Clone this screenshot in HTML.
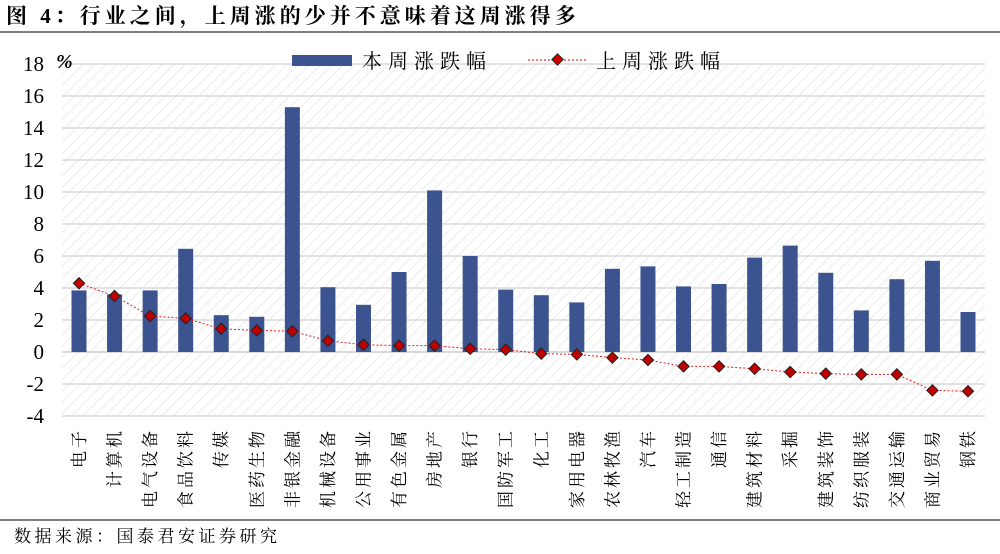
<!DOCTYPE html>
<html><head><meta charset="utf-8"><style>
body{margin:0;background:#fff;width:1000px;height:549px;overflow:hidden;font-family:"Liberation Serif","Noto Serif CJK SC",serif}
</style></head><body>
<svg width="1000" height="549" xmlns="http://www.w3.org/2000/svg">
<defs><pattern id="hatch" width="8" height="8" patternUnits="userSpaceOnUse" patternTransform="rotate(45)"><rect width="8" height="8" fill="#fff"/><line x1="0" y1="0" x2="0" y2="8" stroke="#ececec" stroke-width="2"/></pattern></defs>
<text x="6" y="23" font-size="21" font-weight="bold" letter-spacing="4">图 4：行业之间，上周涨的少并不意味着这周涨得多</text>
<line x1="0" y1="32" x2="1000" y2="32" stroke="#555" stroke-width="1.5"/>
<rect x="62" y="64" width="923" height="352" fill="url(#hatch)"/>
<g id="grid"></g><g id="bars"></g><g id="line"></g><g id="labels"></g>
<text x="56" y="68" font-size="20" font-style="italic" font-weight="bold">%</text>
<rect x="292" y="55" width="60" height="11" fill="#3b5490"/>
<text x="362" y="68" font-size="20" letter-spacing="6">本周涨跌幅</text>
<line x1="528" y1="60" x2="588" y2="60" stroke="#d00" stroke-dasharray="2,2"/>
<rect x="553.5" y="55.5" width="8" height="8" transform="rotate(45 557.5 59.5)" fill="#c00" stroke="#222"/>
<text x="596" y="68" font-size="20" letter-spacing="6">上周涨跌幅</text>
<line x1="0" y1="520" x2="1000" y2="520" stroke="#555" stroke-width="1.5"/>
<text x="14" y="542" font-size="17" letter-spacing="3.5">数据来源：国泰君安证券研究</text>
</svg>
<script>
const categories=["电子","计算机","电气设备","食品饮料","传媒","医药生物","非银金融","机械设备","公用事业","有色金属","房地产","银行","国防军工","化工","家用电器","农林牧渔","汽车","轻工制造","通信","建筑材料","采掘","建筑装饰","纺织服装","交通运输","商业贸易","钢铁"];
const thisWeek=[3.85,3.6,3.85,6.45,2.3,2.2,15.3,4.05,2.95,5.0,10.1,6.0,3.9,3.55,3.1,5.2,5.35,4.1,4.25,5.9,6.65,4.95,2.6,4.55,5.7,2.5];
const lastWeek=[4.3,3.5,2.25,2.1,1.45,1.35,1.3,0.7,0.45,0.4,0.4,0.2,0.15,-0.1,-0.15,-0.35,-0.5,-0.9,-0.9,-1.05,-1.25,-1.35,-1.4,-1.4,-2.4,-2.45];
const yTicks=[18,16,14,12,10,8,6,4,2,0,-2,-4];
const NS="http://www.w3.org/2000/svg";
const y=v=>352-v*16;
const x=i=>79+i*35.56;
function mk(tag,attrs,parent,txt){const e=document.createElementNS(NS,tag);for(const k in attrs)e.setAttribute(k,attrs[k]);if(txt!==undefined)e.textContent=txt;document.getElementById(parent).appendChild(e);return e;}
yTicks.forEach(t=>{
 const g=mk('line',{x1:62,x2:985,y1:y(t),y2:y(t),stroke:'#d9d9d9','stroke-width':t===0?2:1.5},'grid');
 
 
 const l=mk('text',{x:44,y:y(t)+7,'font-size':21,'text-anchor':'end'},'grid',String(t));
 
 
});
thisWeek.forEach((v,i)=>{
 const b=mk('rect',{x:x(i)-7.5,width:15,y:Math.min(y(v),y(0)),height:Math.abs(y(v)-y(0)),fill:'#3b5490'},'bars');
 
 
});
const pl=mk('polyline',{points:lastWeek.map((v,i)=>x(i)+','+y(v)).join(' '),fill:'none',stroke:'#e02020','stroke-width':1,'stroke-dasharray':'2,2'},'line');


lastWeek.forEach((v,i)=>{
 const m=mk('rect',{x:x(i)-4,y:y(v)-4,width:8,height:8,fill:'#c00000',stroke:'#222','stroke-width':1,transform:`rotate(45 ${x(i)} ${y(v)})`},'line');
 
 
});
categories.forEach((c,i)=>{
 const t=mk('text',{x:0,y:0,'font-size':17,'text-anchor':'end','letter-spacing':'3',transform:`translate(${x(i)+6},428) rotate(-90)`},'labels',c);
 
 
});
</script>
</body></html>
